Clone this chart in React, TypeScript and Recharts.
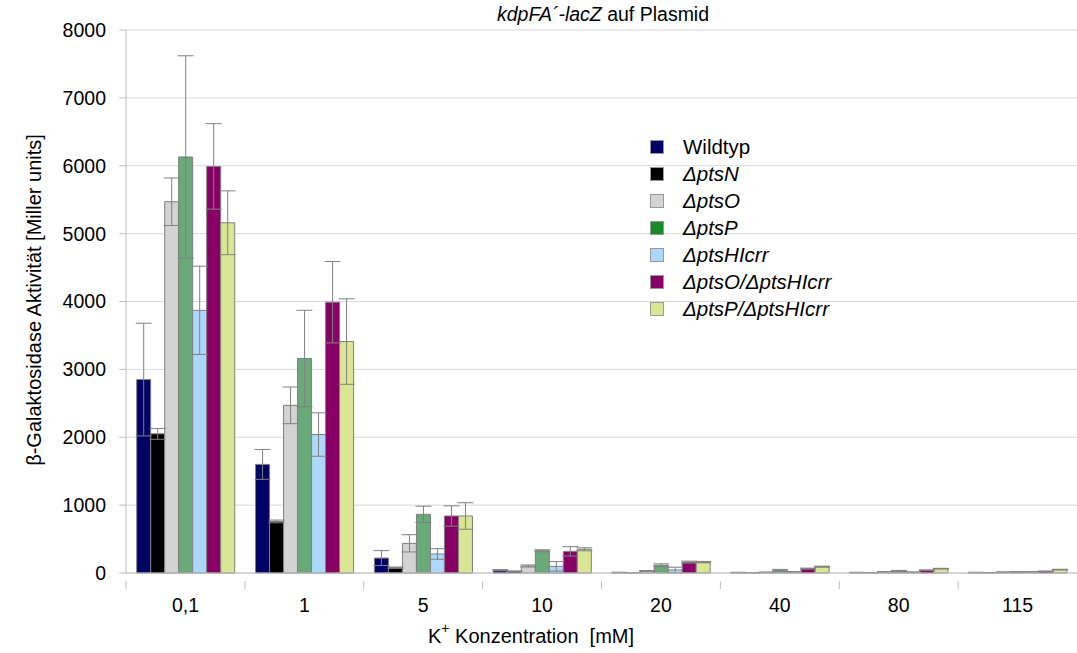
import { BarChart, Bar, XAxis, YAxis, CartesianGrid, ErrorBar } from 'recharts';

const concentrations = ['0,1', '1', '5', '10', '20', '40', '80', '115'];

const wildtyp = [2850, 1600, 220, 40, 8, 8, 8, 8];
const wildtypErr = [830, 220, 110, 10, 3, 2, 2, 2];
const ptsN = [2050, 760, 78, 25, 5, 5, 5, 5];
const ptsNErr = [80, 20, 10, 5, 2, 2, 2, 2];
const ptsO = [5470, 2470, 437, 103, 30, 10, 15, 12];
const ptsOErr = [350, 270, 127, 15, 5, 3, 5, 3];
const ptsP = [6130, 3160, 864, 328, 115, 40, 30, 15];
const ptsPErr = [1490, 710, 120, 15, 20, 13, 8, 3];
const ptsHIcrr = [3870, 2040, 280, 98, 45, 15, 12, 15];
const ptsHIcrrErr = [650, 320, 78, 70, 40, 5, 3, 3];
const ptsOHIcrr = [5990, 3990, 840, 319, 160, 64, 40, 25];
const ptsOHIcrrErr = [630, 600, 150, 69, 15, 8, 5, 3];
const ptsPHIcrr = [5160, 3410, 840, 349, 160, 93, 64, 50];
const ptsPHIcrrErr = [470, 630, 195, 22, 10, 8, 5, 5];

const yTicks = [0, 1000, 2000, 3000, 4000, 5000, 6000, 7000, 8000];

const series = [
  { key: 'wt', name: 'Wildtyp', italic: false, fill: '#000066', legend: '#000066', values: wildtyp, err: wildtypErr },
  { key: 'n', name: 'ΔptsN', italic: true, fill: '#000000', legend: '#000000', values: ptsN, err: ptsNErr },
  { key: 'o', name: 'ΔptsO', italic: true, fill: '#d3d3d3', legend: '#d3d3d3', values: ptsO, err: ptsOErr },
  { key: 'p', name: 'ΔptsP', italic: true, fill: '#6aaa78', legend: '#168a28', values: ptsP, err: ptsPErr },
  { key: 'h', name: 'ΔptsHIcrr', italic: true, fill: '#acd8fc', legend: '#acd8fc', values: ptsHIcrr, err: ptsHIcrrErr },
  { key: 'oh', name: 'ΔptsO/ΔptsHIcrr', italic: true, fill: '#880066', legend: '#880066', values: ptsOHIcrr, err: ptsOHIcrrErr },
  { key: 'ph', name: 'ΔptsP/ΔptsHIcrr', italic: true, fill: '#d9e795', legend: '#d9e795', values: ptsPHIcrr, err: ptsPHIcrrErr },
];

const data = concentrations.map((c, i) => {
  const row: any = { c };
  series.forEach(s => {
    row[s.key] = s.values[i];
    row[s.key + 'Err'] = s.err[i];
  });
  return row;
});

const font = '"Liberation Sans", Arial, sans-serif';

function XTick(props: any) {
  const { x, y, payload } = props;
  const half = payload.offset || 0;
  return (
    <g>
      <line x1={x - half} y1={y} x2={x - half} y2={y + 8} stroke="#bfbfbf" />
      <text x={x} y={y + 31} textAnchor="middle" fill="#000" fontSize={19.5} fontFamily={font}>
        {payload.value}
      </text>
    </g>
  );
}

function LegendBox() {
  return (
    <div style={{ position: 'absolute', left: 650, top: 133, fontFamily: font, fontSize: 20.5, color: '#000' }}>
      {series.map(s => (
        <div key={s.key} style={{ display: 'flex', alignItems: 'center', height: 27 }}>
          <span style={{ width: 14, height: 14, background: s.legend, border: '1px solid #999', boxSizing: 'border-box', display: 'inline-block', marginRight: 19 }} />
          <span style={{ fontStyle: s.italic ? 'italic' : 'normal' }}>{s.name}</span>
        </div>
      ))}
    </div>
  );
}

export default function App() {
  return (
    <div style={{ position: 'absolute', left: 0, top: 0, width: 1077, height: 653, background: '#fff', fontFamily: font }}>
      <BarChart
        width={1077}
        height={653}
        data={data}
        margin={{ top: 30, right: 0, bottom: 50, left: 66 }}
        barCategoryGap="9%"
        barGap={0}
      >
        <CartesianGrid vertical={false} stroke="#d9d9d9" />
        <XAxis dataKey="c" stroke="#bfbfbf" tickLine={false} tick={<XTick />} interval={0} />
        <YAxis
          domain={[0, 8000]}
          ticks={yTicks}
          width={60}
          stroke="#bfbfbf"
          tickSize={7}
          tickMargin={13}
          tick={{ fill: '#000', fontSize: 19.5, fontFamily: font }}
        />
        {series.map(s => (
          <Bar key={s.key} dataKey={s.key} name={s.name} fill={s.fill} stroke="#7f7f7f" strokeWidth={1} isAnimationActive={false}>
            <ErrorBar dataKey={s.key + 'Err'} stroke="#808080" strokeWidth={1} width={8} />
          </Bar>
        ))}
      </BarChart>
      <div style={{ position: 'absolute', left: 497, top: 3, fontSize: 19.5, whiteSpace: 'nowrap' }}>
        <span style={{ fontStyle: 'italic' }}>kdpFA´-lacZ</span> auf Plasmid
      </div>
      <LegendBox />
      <div
        style={{
          position: 'absolute',
          left: 34,
          top: 300,
          transform: 'translate(-50%, -50%) rotate(-90deg)',
          whiteSpace: 'nowrap',
          fontSize: 20,
        }}
      >
        β-Galaktosidase Aktivität [Miller units]
      </div>
      <div style={{ position: 'absolute', left: 428, top: 624, fontSize: 20, whiteSpace: 'nowrap', lineHeight: '24px' }}>
        K<span style={{ fontSize: 14, position: 'relative', top: -10 }}>+</span> Konzentration&nbsp; [mM]
      </div>
    </div>
  );
}
